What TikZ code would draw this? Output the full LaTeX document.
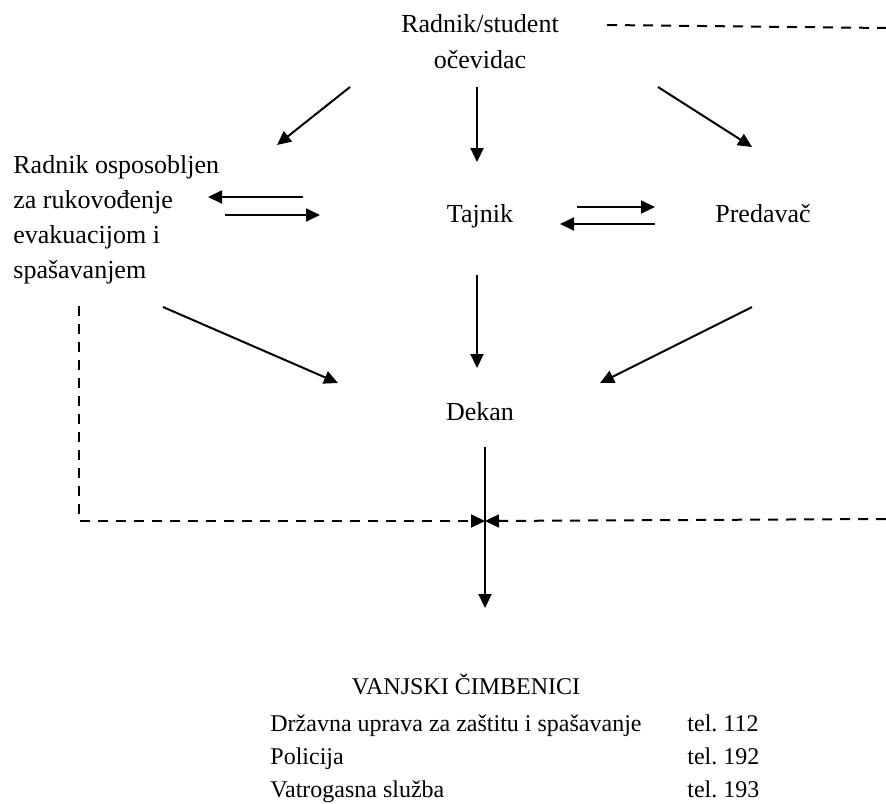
\documentclass[tikz,border=0pt]{standalone}
\usepackage{fontspec}
\setmainfont{Liberation Serif}
\usetikzlibrary{positioning, arrows.meta, calc}

\tikzstyle{tekst} = [
    inner sep=0pt,
    font=\fontsize{13}{17.5}\selectfont
    ]
\tikzstyle{strelica} = [
    line width=1pt,
    -{Triangle[length=7pt,width=6.5pt]}
    ]
\tikzstyle{isprekidana} = [
    line width=1pt,
    dash pattern=on 5pt off 4pt
    ]

\begin{document}
\begin{tikzpicture}[x=0.5pt, y=-0.5pt]
      \useasboundingbox (0,0) rectangle (886,803);
      \node[tekst, anchor=base, align=center] at (480,68) (svjedok) {Radnik/student\\očevidac};
      \node[tekst, anchor=base west, align=left] at (13,278) (rukovoditelj) {Radnik osposobljen\\za rukovođenje\\evakuacijom i\\spašavanjem};
      \node[tekst, anchor=base] at (480,222) (tajnik) {Tajnik};
      \node[tekst, anchor=base] at (763,222) (predavac) {Predavač};
      \node[tekst, anchor=base] at (480,420) (dekan) {Dekan};
      \node[inner sep=0pt, anchor=base, font=\fontsize{12}{16.5}\selectfont] at (466,694) (vanjski) {VANJSKI ČIMBENICI};
      \node[inner sep=0pt, anchor=base west, font=\fontsize{12}{16.5}\selectfont] at (270,731) (sluzbe) {%
        \begin{tabular}[t]{@{}p{208.5pt}@{}l@{}}
          Državna uprava za zaštitu i spašavanje & tel.\ 112\\
          Policija & tel.\ 192\\
          Vatrogasna služba & tel.\ 193
        \end{tabular}};
      \coordinate (spoj) at (485,521);
      \coordinate (goreDesno) at (886,28);
      \coordinate (doljeDesno) at (886,519);

      \draw[strelica] ($(svjedok.base)+(-130,19)$) -- ($(rukovoditelj.base west)+(264,-133)$);
      \draw[strelica] ($(svjedok.base)+(-3,19)$) -- ($(tajnik.base)+(-3,-60)$);
      \draw[strelica] ($(svjedok.base)+(178,19)$) -- ($(predavac.base)+(-11,-75)$);
      \draw[isprekidana] ($(svjedok.base)+(127,-43)$) -- (goreDesno);

      \draw[strelica] ($(tajnik.base)+(-177,-25)$) -- ($(rukovoditelj.base west)+(195,-81)$);
      \draw[strelica] ($(rukovoditelj.base west)+(212,-63)$) -- ($(tajnik.base)+(-160,-7)$);
      \draw[strelica] ($(tajnik.base)+(97,-15)$) -- ($(predavac.base)+(-108,-15)$);
      \draw[strelica] ($(predavac.base)+(-108,2)$) -- ($(tajnik.base)+(80,2)$);

      \draw[strelica] ($(rukovoditelj.base west)+(150,29)$) -- ($(dekan.base)+(-142,-37)$);
      \draw[strelica] ($(tajnik.base)+(-3,53)$) -- ($(dekan.base)+(-3,-52)$);
      \draw[strelica] ($(predavac.base)+(-11,85)$) -- ($(dekan.base)+(120,-37)$);

      \draw[strelica] ($(dekan.base)+(5,27)$) -- ($(vanjski.base)+(19,-86)$);
      \draw[isprekidana, strelica] ($(rukovoditelj.base west)+(66,28)$) |- (spoj);
      \draw[isprekidana, strelica] (doljeDesno) -- (spoj);
    \end{tikzpicture}
\end{document}
